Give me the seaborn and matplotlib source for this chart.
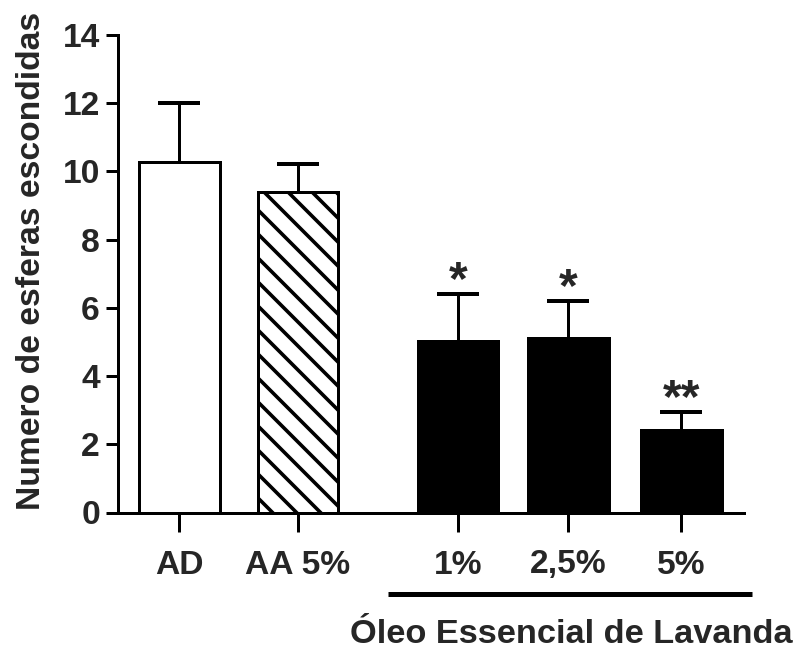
import numpy as np
import pandas as pd
import matplotlib
matplotlib.use("Agg")
import matplotlib.pyplot as plt
import seaborn as sns

# data
groups = ["AD", "AA 5%", "1%", "2,5%", "5%"]
means = [10.29, 9.39, 5.03, 5.13, 2.42]
sem = [1.73, 0.82, 1.38, 1.08, 0.52]
stars = ["", "", "*", "*", "**"]
y_ticks = [0, 2, 4, 6, 8, 10, 12, 14]

# layout (x positions in axis units, groups spaced like the original)
xpos = [0, 1.06, 2.49, 3.48, 4.49]
faces = ["white", "white", "black", "black", "black"]
hatches = [None, "\\\\", None, None, None]

sns.set_style("ticks")
plt.rcParams["font.family"] = ["Liberation Sans", "DejaVu Sans"]
plt.rcParams["font.weight"] = "bold"
plt.rcParams["hatch.linewidth"] = 1.8
plt.rcParams["hatch.color"] = "black"

DPI = 144
fig = plt.figure(figsize=(798 / DPI, 651 / DPI), dpi=DPI)
ax = fig.add_axes([118 / 798, 1 - 512.5 / 651, 626 / 798, 477.5 / 651])

df = pd.DataFrame({"x": xpos, "y": means, "grupo": groups})
sns.barplot(data=df, x="x", y="y", native_scale=True, width=0.727,
            errorbar=None, color="black", linewidth=1.5, edgecolor="black",
            ax=ax, zorder=3)

for patch, fc, h in zip(ax.patches, faces, hatches):
    patch.set_facecolor(fc)
    patch.set_edgecolor("black")
    patch.set_linewidth(1.5)
    if h:
        patch.set_hatch(h)

eb = ax.errorbar(xpos, means, yerr=[np.zeros(len(sem)), sem], fmt="none",
                 ecolor="black", elinewidth=1.5, capsize=10.3, capthick=2.0,
                 zorder=2)
eb[1][0].remove()  # drop the lower cap hidden in the bar top

for x, m, s, st in zip(xpos, means, sem, stars):
    if st:
        ax.annotate(st, (x, m + s), xytext=(0, 0), textcoords="offset points",
                    ha="center", va="baseline", fontsize=24, fontweight="bold")

ax.set_xlim(-0.55, 5.05)
ax.set_ylim(0, 14)
ax.set_yticks(y_ticks)
ax.set_yticklabels([str(t) for t in y_ticks])
ax.set_xticks(xpos)
ax.set_xticklabels(groups)
ax.tick_params(axis="both", labelsize=16.8, width=1.5, color="black")
ax.tick_params(axis="y", length=6, pad=3)
ax.tick_params(axis="x", length=9.5, pad=9)
for lbl in ax.get_xticklabels() + ax.get_yticklabels():
    lbl.set_fontweight("bold")

for side in ["top", "right"]:
    ax.spines[side].set_visible(False)
for side in ["left", "bottom"]:
    ax.spines[side].set_linewidth(1.5)
    ax.spines[side].set_color("black")

ax.set_xlabel("")
ax.set_ylabel("Numero de esferas escondidas", fontsize=16.8, fontweight="bold")
ax.yaxis.set_label_coords(-0.113, 0.527)

# group bracket for the lavender oil doses
ax.plot([0.431, 1.013], [-0.1707, -0.1707], transform=ax.transAxes,
        color="black", lw=2.5, clip_on=False, solid_capstyle="butt")
ax.text(0.724, -0.2545, "Óleo Essencial de Lavanda", transform=ax.transAxes,
        ha="center", va="center", fontsize=17.2, fontweight="bold")

fig.savefig("out.png", dpi=DPI)
